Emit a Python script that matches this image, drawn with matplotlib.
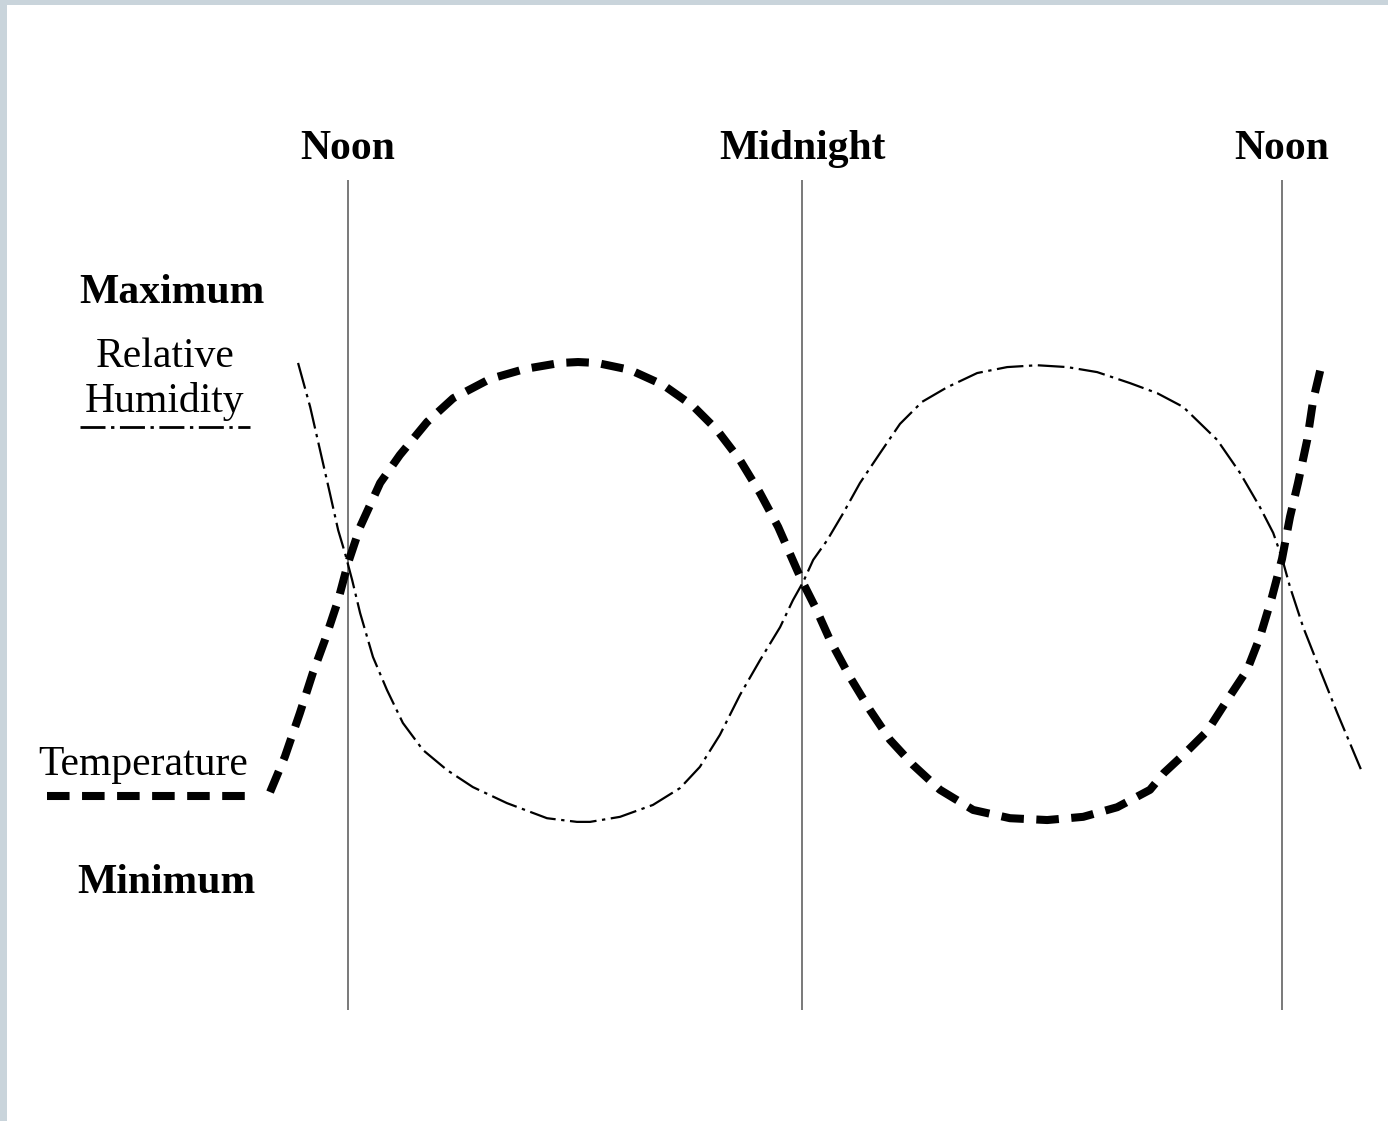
import numpy as np
import matplotlib
matplotlib.use("Agg")
import matplotlib.pyplot as plt
from matplotlib.patches import Rectangle

# hours of the day (12 = noon, 24 = midnight, 36 = next noon)
# values on a relative scale: 0 = minimum, 100 = maximum
temp_hours = [9.94, 10.33, 10.73, 11.07, 11.39, 11.74, 12.0, 12.32, 12.85, 13.37,
              14.09, 14.78, 15.75, 16.68, 17.6, 18.08, 18.58, 19.45, 20.33, 21.12,
              21.75, 22.36, 22.89, 23.37, 23.87, 24.03, 24.33, 24.7, 25.2, 25.7,
              26.2, 26.78, 27.45, 28.28, 29.2, 30.13, 31.03, 31.88, 32.7, 33.05,
              33.53, 34.13, 34.63, 35.13, 35.45, 35.75, 36.0, 36.2, 36.4, 36.63,
              36.78, 37.0]
temp_vals = [6.1, 13.8, 23.4, 32.1, 39.3, 48.0, 56.1, 64.0, 73.6, 79.7,
             86.9, 92.1, 96.3, 98.5, 99.8, 100.0, 99.8, 98.3, 95.0, 90.4,
             85.2, 78.6, 71.4, 64.0, 54.6, 51.7, 46.5, 39.3, 31.2, 24.0,
             17.5, 12.0, 6.6, 2.2, 0.4, 0.0, 0.7, 2.8, 6.6, 10.3,
             14.2, 19.4, 26.2, 32.8, 40.0, 48.7, 57.0, 66.2, 73.6, 83.0,
             91.7, 99.8]

rh_hours = [10.68, 11.0, 11.26, 11.52, 11.74, 11.92, 12.11, 12.32, 12.66, 13.03,
            13.45, 13.98, 14.62, 15.3, 16.2, 17.26, 18.05, 18.4, 19.19, 20.06,
            20.78, 21.3, 21.83, 22.36, 22.89, 23.42, 23.76, 24.03, 24.28, 24.63,
            25.03, 25.45, 25.95, 26.45, 27.0, 27.63, 28.38, 29.13, 29.88, 30.63,
            31.38, 32.2, 32.88, 33.53, 34.38, 34.95, 35.45, 35.78, 36.0, 36.2,
            36.53, 36.95, 37.38, 38.0]
rh_vals = [99.8, 90.2, 80.8, 71.4, 63.3, 58.3, 52.4, 45.2, 35.6, 28.4,
           21.2, 15.3, 10.9, 7.2, 3.7, 0.4, -0.4, -0.4, 0.7, 3.3,
           7.0, 11.6, 18.6, 27.3, 34.9, 42.1, 48.0, 52.0, 56.8, 61.1,
           67.0, 73.6, 80.1, 86.5, 91.3, 94.5, 97.6, 98.9, 99.3, 98.9,
           97.8, 95.4, 93.2, 90.2, 83.0, 75.8, 68.3, 62.7, 57.2, 50.9,
           42.1, 32.8, 23.4, 10.5]

marker_hours = [12, 24, 36]
marker_labels = ["Noon", "Midnight", "Noon"]

# the scanned diagram is not evenly spaced: noon->midnight is a bit narrower
# than midnight->noon, so the time axis is piecewise linear
scale_hours = [0, 12, 24, 48]
scale_units = [-106.0, 348.0, 802.0, 1762.0]


def fwd(h):
    return np.interp(h, scale_hours, scale_units)


def inv(u):
    return np.interp(u, scale_units, scale_hours)


serif = "Liberation Serif"
fs = 30
temp_style = dict(color="black", lw=5.8, linestyle=(0, (2.8, 1.55)))
rh_style = dict(color="black", lw=1.6, linestyle=(0, (12, 2.5, 1.5, 2.5)))

fig = plt.figure(figsize=(13.88, 11.21), dpi=100)
fig.patch.set_facecolor("#c9d4db")
# white page over the grey-blue slide background
fig.patches.append(Rectangle((7 / 1388, 0), 1, 1 - 5 / 1121, transform=fig.transFigure,
                             facecolor="white", edgecolor="none", zorder=-5))

ax = fig.add_axes([0, 0.099, 1, 0.7404])
ax.set_facecolor("none")
ax.set_xscale("function", functions=(fwd, inv))
ax.set_xlim(inv(0), inv(1388))
ax.set_ylim(-41.48, 139.74)
for sp in ax.spines.values():
    sp.set_visible(False)

for h in marker_hours:
    ax.axvline(h, color="#555555", lw=1.1, zorder=1)

ax.plot(rh_hours, rh_vals, **rh_style, zorder=2)
ax.plot(temp_hours, temp_vals, **temp_style, zorder=3)

ax.xaxis.tick_top()
ax.set_xticks(marker_hours)
ax.set_xticklabels(marker_labels, family=serif, fontsize=fs, fontweight="bold")
ax.xaxis.set_minor_locator(matplotlib.ticker.NullLocator())
ax.tick_params(axis="x", length=0, pad=9)
ax.set_yticks([])

# left-hand labels and line keys
ax.text(7.35, 112.9, "Maximum", family=serif, fontsize=fs, fontweight="bold",
        ha="center", va="baseline")
ax.text(7.16, 98.9, "Relative", family=serif, fontsize=fs, ha="center", va="baseline")
ax.text(7.16, 89.1, "Humidity", family=serif, fontsize=fs, ha="center", va="baseline")
ax.plot([4.92, 9.41], [85.8, 85.8], color="black", lw=2.0,
        linestyle=(0, (9, 2, 1.2, 2)), clip_on=False)
ax.text(6.58, 9.8, "Temperature", family=serif, fontsize=fs, ha="center", va="baseline")
ax.plot([4.04, 9.28], [5.2, 5.2], **temp_style, clip_on=False)
ax.text(7.19, -15.9, "Minimum", family=serif, fontsize=fs, fontweight="bold",
        ha="center", va="baseline")

fig.savefig("out.png", dpi=100, facecolor=fig.get_facecolor())
